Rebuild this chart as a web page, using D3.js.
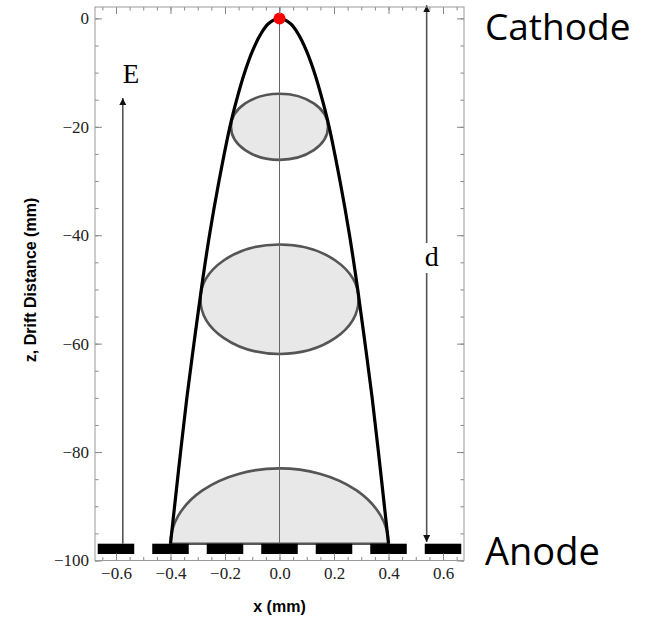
<!DOCTYPE html>
<html>
<head>
<meta charset="utf-8">
<script src="https://cdn.jsdelivr.net/npm/d3@7"></script>
<style>
  body { margin: 0; background: #fff; }
  .axis path { display: none; }
  .axis line { stroke: #888; }
</style>
</head>
<body>
<svg id="chart" width="646" height="618"></svg>
<script>
// values
const xTicks = [-0.6, -0.4, -0.2, 0, 0.2, 0.4, 0.6];
const zTicks = [0, -20, -40, -60, -80, -100];
const anodePads = [-0.6, -0.4, -0.2, 0, 0.2, 0.4, 0.6];
const padHalfWidth = 0.067;
const anodeTop = -96.9, anodeBottom = -98.8;

// diffusion envelope (half width vs drift distance)
const envZ = [0, -1, -3, -6, -10, -15, -20, -30, -40, -50, -60, -70, -80, -90, -96.9];
const envHalf = [0, 0.041, 0.070, 0.099, 0.128, 0.157, 0.182, 0.222, 0.257, 0.287, 0.314, 0.340, 0.363, 0.385, 0.400];

// electron clouds
const cloudZ = [-20, -51.8];
const cloudRx = [0.178, 0.29];
const cloudRz = [6.1, 10.1];
const lastCloud = { rx: 0.4, rz: 13.9 };

const eArrow = { x: -0.575, from: -96.9, to: -14.7 };
const dArrow = { x: 0.54, from: 2.4, to: -96.6 };

const svg = d3.select("#chart");
const x = d3.scaleLinear().domain([-0.677, 0.677]).range([95, 464]);
const y = d3.scaleLinear().domain([-100, 2.1]).range([560.5, 7]);

const defs = svg.append("defs");
defs.append("marker")
  .attr("id", "head")
  .attr("viewBox", "0 0 10 10")
  .attr("refX", 10).attr("refY", 5)
  .attr("markerWidth", 7).attr("markerHeight", 12)
  .attr("markerUnits", "userSpaceOnUse")
  .attr("orient", "auto-start-reverse")
  .append("path")
  .attr("d", "M0,0 L10,5 L0,10 Z")
  .attr("fill", "#111");

// clouds
cloudZ.forEach((cz, i) => {
  svg.append("ellipse")
    .attr("cx", x(0)).attr("cy", y(cz))
    .attr("rx", x(cloudRx[i]) - x(0))
    .attr("ry", y(cz - cloudRz[i]) - y(cz))
    .attr("fill", "#e8e8e8")
    .attr("stroke", "#555")
    .attr("stroke-width", 2.6);
});

const rxPx = x(lastCloud.rx) - x(0), ryPx = y(anodeTop - lastCloud.rz) - y(anodeTop);
svg.append("path")
  .attr("d", `M${x(-lastCloud.rx)},${y(anodeTop)} A${rxPx},${ryPx} 0 0 1 ${x(lastCloud.rx)},${y(anodeTop)} Z`)
  .attr("fill", "#e8e8e8")
  .attr("stroke", "#555")
  .attr("stroke-width", 2.6);

// centre line
svg.append("line")
  .attr("x1", x(0)).attr("x2", x(0))
  .attr("y1", y(2.1)).attr("y2", y(anodeTop))
  .attr("stroke", "#666").attr("stroke-width", 1);

// envelope
const envPts = envZ.map((z, i) => [-envHalf[i], z]).reverse()
  .concat(envZ.slice(1).map((z, i) => [envHalf[i + 1], z]));
svg.append("path")
  .attr("d", d3.line().x(d => x(d[0])).y(d => y(d[1])).curve(d3.curveCatmullRom)(envPts))
  .attr("fill", "none")
  .attr("stroke", "#000")
  .attr("stroke-width", 3.2);

// anode pads
svg.selectAll(".pad")
  .data(anodePads)
  .enter()
  .append("rect")
  .attr("class", "pad")
  .attr("x", d => x(Math.max(d - padHalfWidth, -0.677)))
  .attr("width", d => x(Math.min(d + padHalfWidth, 0.677)) - x(Math.max(d - padHalfWidth, -0.677)))
  .attr("y", y(anodeTop))
  .attr("height", y(anodeBottom) - y(anodeTop))
  .attr("fill", "#000");

// cathode point
svg.append("circle")
  .attr("cx", x(0)).attr("cy", y(0)).attr("r", 6)
  .attr("fill", "#f00");

// E field arrow
svg.append("line")
  .attr("x1", x(eArrow.x)).attr("x2", x(eArrow.x))
  .attr("y1", y(eArrow.from)).attr("y2", y(eArrow.to))
  .attr("stroke", "#555").attr("stroke-width", 1.6)
  .attr("marker-end", "url(#head)");
svg.append("text")
  .attr("x", x(-0.545)).attr("y", y(-11.9))
  .attr("text-anchor", "middle")
  .attr("font-family", "'Liberation Serif', 'Times New Roman', serif")
  .attr("font-size", 27)
  .text("E");

// d arrow
svg.append("line")
  .attr("x1", x(dArrow.x)).attr("x2", x(dArrow.x))
  .attr("y1", y(dArrow.from)).attr("y2", y(dArrow.to))
  .attr("stroke", "#555").attr("stroke-width", 1.6)
  .attr("marker-start", "url(#head)")
  .attr("marker-end", "url(#head)");
svg.append("rect")
  .attr("x", x(dArrow.x) - 10).attr("y", 243)
  .attr("width", 20).attr("height", 30)
  .attr("fill", "#fff");
svg.append("text")
  .attr("x", x(dArrow.x) + 5).attr("y", 266)
  .attr("text-anchor", "middle")
  .attr("font-family", "'Liberation Serif', 'Times New Roman', serif")
  .attr("font-size", 28)
  .text("d");

// frame and ticks
const fmtX = d3.format(".1f");
function frameAxis(gen, tr, major, minor, fmt) {
  svg.append("g").attr("class", "axis").attr("transform", tr)
    .call(gen.tickValues(minor).tickSize(-3.5).tickFormat(""));
  const g = svg.append("g").attr("class", "axis").attr("transform", tr)
    .call(gen.tickValues(major).tickSize(-7).tickPadding(6).tickFormat(fmt));
  g.selectAll("text")
    .attr("font-family", "'Liberation Serif', 'Times New Roman', serif")
    .attr("font-size", 17)
    .attr("fill", "#222");
}
const xMinor = d3.range(-0.65, 0.66, 0.05).map(v => +v.toFixed(2));
const zMinor = d3.range(0, -101, -5);
frameAxis(d3.axisBottom(x), `translate(0,${y(-100)})`, xTicks, xMinor, fmtX);
frameAxis(d3.axisTop(x), `translate(0,${y(2.1)})`, xTicks, xMinor, "");
frameAxis(d3.axisLeft(y), `translate(${x(-0.677)},0)`, zTicks, zMinor, d3.format("d"));
frameAxis(d3.axisRight(y), `translate(${x(0.677)},0)`, zTicks, zMinor, "");

svg.append("rect")
  .attr("x", x(-0.677)).attr("y", y(2.1))
  .attr("width", x(0.677) - x(-0.677))
  .attr("height", y(-100) - y(2.1))
  .attr("fill", "none").attr("stroke", "#999").attr("stroke-width", 1);

// axis titles
svg.append("text")
  .attr("x", x(0)).attr("y", 612)
  .attr("text-anchor", "middle")
  .attr("font-family", "'Liberation Sans', Arial, sans-serif")
  .attr("font-weight", "bold").attr("font-size", 16)
  .text("x (mm)");
svg.append("text")
  .attr("transform", "translate(36,280) rotate(-90)")
  .attr("text-anchor", "middle")
  .attr("font-family", "'Liberation Sans', Arial, sans-serif")
  .attr("font-weight", "bold").attr("font-size", 16)
  .text("z, Drift Distance (mm)");

// electrode names
svg.append("text")
  .attr("x", 485).attr("y", 40)
  .attr("font-family", "'Open Sans', sans-serif").attr("font-size", 37)
  .text("Cathode");
svg.append("text")
  .attr("x", 485).attr("y", 565)
  .attr("font-family", "'Open Sans', sans-serif").attr("font-size", 38)
  .text("Anode");
</script>
</body>
</html>
